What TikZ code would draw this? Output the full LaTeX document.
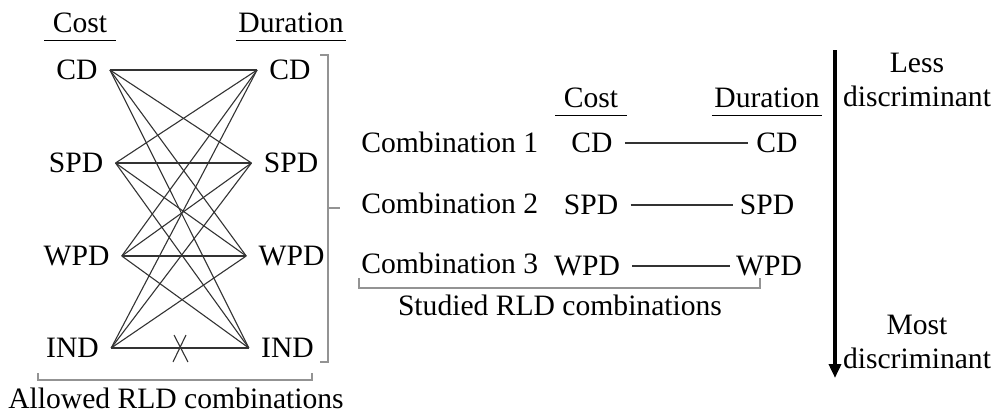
\documentclass[tikz,border=0pt]{standalone}
\usepackage{fontspec}
\setmainfont{Liberation Serif}
\usetikzlibrary{arrows.meta}

\begin{document}
\begin{tikzpicture}[
  x=0.5pt, y=-0.5pt,
  font=\fontsize{14.8}{17}\selectfont,
  lab/.style={inner xsep=6pt, inner ysep=1pt},
  head/.style={inner xsep=#1, inner ysep=3.5pt},
  uline/.style={line width=0.75pt},
  link/.style={black!80, line width=0.55pt},
  brk/.style={gray!85, line width=0.6pt},
  arr/.style={-{Triangle[length=7pt, width=6pt]}, line width=2pt}
]
\useasboundingbox (0,0) rectangle (996,413);

% allowed combinations
\node[head=4pt] (hc1) at (80,23) {Cost};
\node[head=1pt] (hd1) at (291,23) {Duration};

\node[lab] (lcd)  at (77,70)   {CD};
\node[lab] (lspd) at (76,163)  {SPD};
\node[lab] (lwpd) at (76.5,256) {WPD};
\node[lab] (lind) at (72.5,348) {IND};

\node[lab] (rcd)  at (290,70)   {CD};
\node[lab] (rspd) at (291,163)  {SPD};
\node[lab] (rwpd) at (291.5,256) {WPD};
\node[lab] (rind) at (287.5,348) {IND};

\foreach \a in {cd,spd,wpd,ind}
  \foreach \b in {cd,spd,wpd,ind}
    \draw[link] (l\a.east) -- (r\b.west);

% forbidden IND-IND
\path (lind.east) -- (rind.west) coordinate[pos=0.5] (nx);
\draw[link] ([shift={(-6,-13)}]nx) -- ([shift={(8,14)}]nx);
\draw[link] ([shift={(6,-13)}]nx) -- ([shift={(-7,14)}]nx);

\draw[brk] (320,55) -- (328,55) -- (328,362) -- (320,362);
\draw[brk] (328,208) -- (340,208);
\draw[brk] (38,373) -- (38,380) -- (312,380) -- (312,373);
\node (allow) at (176,398) {Allowed RLD combinations};

% studied combinations
\node[head=4pt] (hc2) at (591,98) {Cost};
\node[head=1pt] (hd2) at (767,98) {Duration};

\foreach \n/\y in {1/142,2/203,3/263}
  \node[anchor=west, inner sep=0pt] (comb\n) at (361,\y) {Combination \n};

\node[lab] (scd)  at (592,143) {CD};
\node[lab] (sspd) at (591,205) {SPD};
\node[lab] (swpd) at (587,266) {WPD};
\node[lab, inner xsep=4pt] (tcd)  at (777,143) {CD};
\node[lab, inner xsep=3pt] (tspd) at (767,205) {SPD};
\node[lab, inner xsep=3pt] (twpd) at (769,266) {WPD};

\draw[link] (scd.east)  -- (tcd.west);
\draw[link] (sspd.east) -- (tspd.west);
\draw[link] (swpd.east) -- (twpd.west);

\draw[brk] (359,278) -- (359,288) -- (760,288) -- (760,278);
\node (study) at (560,305) {Studied RLD combinations};

\foreach \h in {hc1,hd1,hc2,hd2}
  \draw[uline] (\h.south west) -- (\h.south east);

% discrimination scale
\coordinate (atop) at (835,50);
\coordinate (abot) at (835,378);
\draw[arr] (atop) -- (abot);
\node[align=center] (less) at (917,80)  {Less\\discriminant};
\node[align=center] (most) at (917,342) {Most\\discriminant};

\end{tikzpicture}
\end{document}
